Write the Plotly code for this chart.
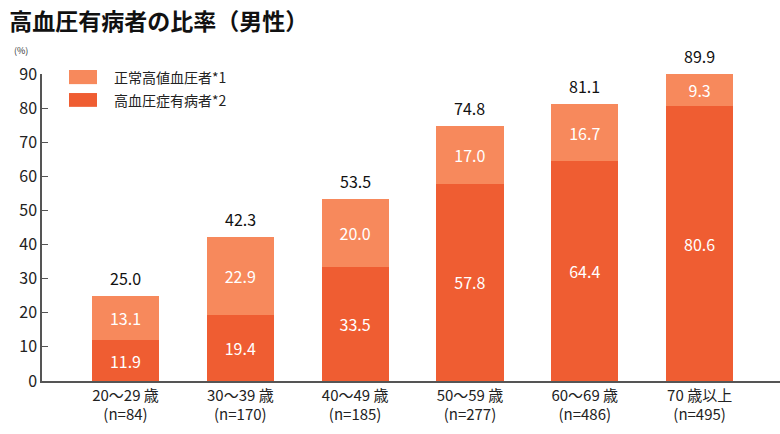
import plotly.graph_objects as go

categories = ["20～29 歳<br>(n=84)", "30～39 歳<br>(n=170)", "40～49 歳<br>(n=185)",
              "50～59 歳<br>(n=277)", "60～69 歳<br>(n=486)", "70 歳以上<br>(n=495)"]
hypertension = [11.9, 19.4, 33.5, 57.8, 64.4, 80.6]
high_normal = [13.1, 22.9, 20.0, 17.0, 16.7, 9.3]
totals = [25.0, 42.3, 53.5, 74.8, 81.1, 89.9]
series_names = ["正常高値血圧者*1", "高血圧症有病者*2"]
y_ticks = [0, 10, 20, 30, 40, 50, 60, 70, 80, 90]

c_light = "#F7895C"
c_dark = "#EF5D32"
font = "Noto Sans CJK JP, Liberation Sans, sans-serif"

x = list(range(len(categories)))

fig = go.Figure()
fig.add_trace(go.Bar(
    x=x, y=hypertension, name=series_names[1], marker=dict(color=c_dark, line=dict(width=0)),
    width=0.585, text=[f"{v:.1f}" for v in hypertension], textposition="inside",
    insidetextanchor="middle", textfont=dict(color="white", size=16, family=font),
    showlegend=False, cliponaxis=False))
fig.add_trace(go.Bar(
    x=x, y=high_normal, name=series_names[0], marker=dict(color=c_light, line=dict(width=0)),
    width=0.585, text=[f"{v:.1f}" for v in high_normal], textposition="inside",
    insidetextanchor="middle", textfont=dict(color="white", size=16, family=font),
    showlegend=False, cliponaxis=False))

for i, t in enumerate(totals):
    fig.add_annotation(x=i, y=t, text=f"{t:.1f}", showarrow=False, yanchor="bottom",
                       yshift=4, font=dict(size=16, color="#111", family=font))

# custom legend (paper coordinates)
legend_items = [(series_names[0], c_light, 1.013, 0.967), (series_names[1], c_dark, 0.938, 0.893)]
for name, col, ytop, ybot in legend_items:
    fig.add_shape(type="rect", xref="paper", yref="paper", x0=0.0366, x1=0.0745,
                  y0=ybot, y1=ytop, fillcolor=col, line=dict(width=0))
    fig.add_annotation(xref="paper", yref="paper", x=0.0949, y=(ytop + ybot) / 2, text=name,
                       showarrow=False, xanchor="left", yanchor="middle",
                       font=dict(size=14, color="#222", family=font))

fig.add_annotation(xref="paper", yref="paper", x=-0.0407, y=1.075, xanchor="left",
                   yanchor="middle", text="(%)", showarrow=False,
                   font=dict(size=9, color="#333", family=font))

fig.update_layout(
    width=780, height=434,
    margin=dict(l=42, r=0, t=74, b=53),
    paper_bgcolor="white", plot_bgcolor="white",
    barmode="stack", bargap=0.4,
    title=dict(text="<b>高血圧有病者の比率（男性）</b>", x=0.012, xanchor="left",
               y=0.95, yanchor="middle",
               font=dict(size=23, color="#111", family=font)),
    font=dict(family=font),
)
fig.update_xaxes(
    tickmode="array", tickvals=x, ticktext=categories, range=[-0.727, 5.70],
    showgrid=False, zeroline=False, showline=True, linecolor="#555", linewidth=1.5,
    ticks="", tickfont=dict(size=15, color="#222", family=font))
fig.update_yaxes(
    range=[0, 90], tickvals=y_ticks, showgrid=False, zeroline=False,
    showline=True, linecolor="#555", linewidth=1.5, ticks="inside", ticklen=6,
    tickcolor="#555", tickfont=dict(size=16, color="#222", family=font))

fig.write_html("out.html", config={"displayModeBar": False},
               post_script="document.body.style.margin='0';")
